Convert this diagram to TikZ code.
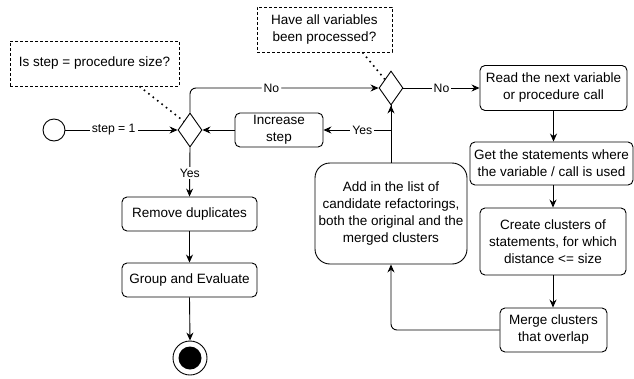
\documentclass[tikz,border=0pt]{standalone}
\usepackage{fontspec}
\setmainfont{Liberation Sans}
\usetikzlibrary{shapes.geometric,arrows.meta}
\begin{document}
\begin{tikzpicture}[x=1pt,y=-1pt,
  every node/.style={font=\fontsize{13.5}{17}\selectfont, align=center, inner sep=1pt},
  box/.style={draw, line width=0.9pt, rounded corners=5pt, minimum width=#1},
  note/.style={draw, dashed, line width=0.8pt, dash pattern=on 3pt off 2pt},
  dec/.style={draw, diamond, line width=0.9pt, minimum width=24pt, minimum height=34pt, inner sep=0pt},
  arr/.style={draw, line width=0.9pt, -{Stealth[length=8pt,width=7pt]}},
  lab/.style={fill=white, font=\fontsize{12.2}{14}\selectfont, inner sep=2pt},
  dotline/.style={draw, line width=1.6pt, dash pattern=on 1.6pt off 4pt}
]
\useasboundingbox (0,0) rectangle (634,378);

\node[draw, circle, line width=0.9pt, minimum size=22pt, inner sep=0pt] (start) at (54,130) {};
\node[dec] (d1) at (190,130) {};
\node[dec] (d2) at (391,88) {};

\node[note, minimum width=169pt, minimum height=45pt] (note1) at (94.5,63.5) {Is step = procedure size?};
\node[note, minimum width=135pt, minimum height=45pt] (note2) at (324.5,29.5) {Have all variables\\been processed?};

\node[box=88pt, minimum height=34pt] (inc) at (279,130) {Increase\\step};
\node[box=147pt, minimum height=45pt] (read) at (553.5,88) {Read the next variable\\or procedure call};
\node[box=163pt, minimum height=43pt] (get) at (551.5,163.5) {Get the statements where\\the variable / call is used};
\node[box=146pt, minimum height=67pt] (create) at (553,241.5) {Create clusters of\\statements, for which\\distance <= size};
\node[box=107pt, minimum height=44pt] (merge) at (553.5,330) {Merge clusters\\that overlap};
\node[box=152pt, minimum height=101pt, rounded corners=15pt] (add) at (391,213.5) {Add in the list of\\candidate refactorings,\\both the original and the\\merged clusters};
\node[box=135pt, minimum height=34pt] (rem) at (189.5,214) {Remove duplicates};
\node[box=135pt, minimum height=34pt] (grp) at (189.5,280) {Group and Evaluate};

\node[draw, circle, line width=0.9pt, minimum size=34pt, inner sep=0pt] (end) at (190,358) {};
\node[circle, fill=black, minimum size=23pt, inner sep=0pt] (endin) at (end.center) {};

% connectors
\draw[arr] (start.east) -- node[lab, pos=0.43] {step = 1} (d1.west);
\draw[arr, rounded corners=6pt] (d1.north) |- node[lab, pos=0.716] {No} (d2.west);
\draw[arr] (d2.east) -- node[lab, pos=0.5] {No} (read.west);
\draw[arr] (read.south) -- (read.south |- get.north);
\draw[arr] (create.north |- get.south) -- (create.north);
\draw[arr] (create.south) -- (create.south |- merge.north);
\draw[arr, rounded corners=6pt] (merge.west) -| (add.south);
\draw[arr] (add.north) -- (d2.south);
\draw[arr] (d2.south) |- node[lab, pos=0.713] {Yes} (inc.east);
\draw[arr] (inc.west) -- (d1.east);
\draw[arr] (d1.south) -- node[lab, pos=0.52] {Yes} (rem.north);
\draw[arr] (rem.south) -- (grp.north);
\draw[arr] (grp.south) -- (end.north);

% note links
\draw[dotline] ([xshift=45pt]note1.south) -- (d1.north west);
\draw[dotline] ([xshift=38pt]note2.south) -- (d2.north west);
\end{tikzpicture}
\end{document}
